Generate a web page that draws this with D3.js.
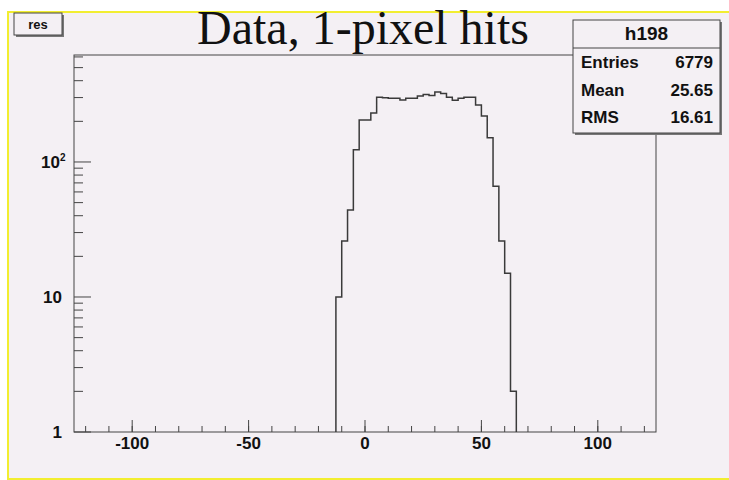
<!DOCTYPE html>
<meta charset="utf-8">
<style>
body { margin: 0; background: #fff; }
text { font-family: "Liberation Sans", Arial, sans-serif; fill: #111; }
.tick { font-weight: bold; font-size: 17px; }
.stats { font-weight: bold; font-size: 17px; }
</style>
<svg width="729" height="480"></svg>
<script src="https://d3js.org/d3.v7.min.js"></script>
<script>

// histogram h198: 2.5-wide bins starting at -12.5
var binStart = -12.5,
    binWidth = 2.5;
var counts = [10, 26, 44, 123, 205, 205, 231, 301, 299, 297, 297, 288, 297, 297, 308, 316,
              311, 330, 322, 301, 286, 297, 301, 301, 264, 219, 151, 66, 26, 15, 2];

var xMajor = [-100, -50, 0, 50, 100];
var xMinor = d3.range(-120, 121, 10);
var yMajor = [1, 10, 100];
var yMajorLabels = ["1", "10", "10"];
var yMinor = [2, 3, 4, 5, 6, 7, 8, 9, 20, 30, 40, 50, 60, 70, 80, 90, 200, 300, 400, 500, 600];

var title = "Data, 1-pixel hits";
var statsName = "h198";
var statsLabels = ["Entries", "Mean", "RMS"];
var statsValues = ["6779", "25.65", "16.61"];

var svg = d3.select("svg"),
    frameL = 74, frameR = 656, frameT = 55, frameB = 432;

var x = d3.scaleLinear().domain([-125, 125]).range([frameL, frameR]);
var y = d3.scaleLog().domain([1, 620]).range([frameB, frameT]);

// canvas with yellow border
svg.append("rect")
    .attr("x", 8).attr("y", 12).attr("width", 740).attr("height", 467)
    .attr("fill", "#f4f0f4")
    .attr("stroke", "#f2ee30").attr("stroke-width", 2);

// title
svg.append("text")
    .attr("x", 363).attr("y", 44)
    .attr("text-anchor", "middle")
    .style("font-family", "'Liberation Serif', 'Times New Roman', serif")
    .style("font-size", "48px")
    .text(title);

// frame
svg.append("rect")
    .attr("x", frameL).attr("y", frameT)
    .attr("width", frameR - frameL).attr("height", frameB - frameT)
    .attr("fill", "none").attr("stroke", "#444").attr("stroke-width", 1);

// x ticks (pointing into the frame)
var gx = svg.append("g").attr("stroke", "#444");
gx.selectAll(".minor").data(xMinor).join("line")
    .attr("x1", d => x(d)).attr("x2", d => x(d))
    .attr("y1", frameB).attr("y2", frameB - 6);
gx.selectAll(".major").data(xMajor).join("line")
    .attr("x1", d => x(d)).attr("x2", d => x(d))
    .attr("y1", frameB).attr("y2", frameB - 12);
svg.selectAll(".xlab").data(xMajor).join("text")
    .attr("class", "tick")
    .attr("x", d => x(d)).attr("y", 449)
    .attr("text-anchor", "middle")
    .text(d => d);

// y ticks
var gy = svg.append("g").attr("stroke", "#444");
gy.selectAll(".minor").data(yMinor).join("line")
    .attr("x1", frameL).attr("x2", frameL + 9)
    .attr("y1", d => y(d)).attr("y2", d => y(d));
gy.selectAll(".major").data(yMajor).join("line")
    .attr("x1", frameL).attr("x2", frameL + 17)
    .attr("y1", d => y(d)).attr("y2", d => y(d));
svg.selectAll(".ylab").data(yMajor).join("text")
    .attr("class", "tick")
    .attr("x", (d, i) => i == 2 ? 60 : 62)
    .attr("y", d => y(d) + 6)
    .attr("text-anchor", "end")
    .text((d, i) => yMajorLabels[i]);
// exponent for 10^2
svg.append("text")
    .attr("x", 60).attr("y", y(100) - 1)
    .style("font-weight", "bold").style("font-size", "10px")
    .text("2");

// histogram outline
var p = d3.path();
p.moveTo(x(binStart), y(1));
counts.forEach(function(c, i) {
  var lo = binStart + i * binWidth;
  p.lineTo(x(lo), y(Math.max(c, 1)));
  p.lineTo(x(lo + binWidth), y(Math.max(c, 1)));
});
p.lineTo(x(binStart + counts.length * binWidth), y(1));
svg.append("path")
    .attr("d", p.toString())
    .attr("fill", "none").attr("stroke", "#3a3a3a").attr("stroke-width", 1.5);

// "res" label box
svg.append("rect").attr("x", 16).attr("y", 15).attr("width", 48).attr("height", 22).attr("fill", "#777");
svg.append("rect").attr("x", 14).attr("y", 13).attr("width", 48).attr("height", 22)
    .attr("fill", "#f4f0f4").attr("stroke", "#444");
svg.append("text").attr("x", 38).attr("y", 29)
    .attr("text-anchor", "middle")
    .style("font-weight", "bold").style("font-size", "13px")
    .text("res");

// stats box
var sx = 573, sy = 20, sw = 147, sh = 113;
svg.append("rect").attr("x", sx + 2).attr("y", sy + 2).attr("width", sw).attr("height", sh).attr("fill", "#777");
svg.append("rect").attr("x", sx).attr("y", sy).attr("width", sw).attr("height", sh)
    .attr("fill", "#f4f0f4").attr("stroke", "#444");
svg.append("line").attr("x1", sx).attr("x2", sx + sw).attr("y1", 48).attr("y2", 48).attr("stroke", "#444");
svg.append("text").attr("class", "stats")
    .attr("x", sx + sw / 2).attr("y", 40)
    .attr("text-anchor", "middle")
    .style("font-size", "19px")
    .text(statsName);
var rowY = [68, 96, 123];
svg.selectAll(".slab").data(statsLabels).join("text")
    .attr("class", "stats")
    .attr("x", 581).attr("y", (d, i) => rowY[i])
    .text(d => d);
svg.selectAll(".sval").data(statsValues).join("text")
    .attr("class", "stats")
    .attr("x", 713).attr("y", (d, i) => rowY[i])
    .attr("text-anchor", "end")
    .text(d => d);

</script>
